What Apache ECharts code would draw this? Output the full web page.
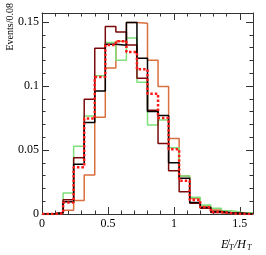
<!DOCTYPE html>
<html><head><meta charset="utf-8">
<script src="https://cdn.jsdelivr.net/npm/echarts@6/dist/echarts.min.js"></script>
<style>html,body{margin:0;padding:0;background:#fff}#c{width:266px;height:255px}</style>
</head><body><div id="c"></div>
<script>
// Bin lower edges (bin width 0.08)
var binLow = [0,0.08,0.16,0.24,0.32,0.40,0.48,0.56,0.64,0.72,0.80,0.88,0.96,1.04,1.12,1.20,1.28,1.36,1.44,1.52];
var binWidth = 0.08;
var blackVals  = [0,0.001,0.0096,0.0388,0.0714,0.096,0.1325,0.1318,0.1495,0.1216,0.080,0.077,0.040,0.028,0.009,0.005,0.002,0.001,0.0005,0];
var maroonVals = [0,0.001,0.0112,0.044,0.0896,0.1294,0.1464,0.1422,0.132,0.106,0.081,0.055,0.0337,0.0174,0.0083,0.0044,0.0012,0.0008,0.0005,0];
var orangeVals = [0,0.0005,0.003,0.0105,0.0305,0.0755,0.114,0.135,0.1495,0.149,0.120,0.0995,0.059,0.0297,0.0122,0.0062,0.0031,0.001,0.0005,0];
var greenVals  = [0,0.0012,0.0165,0.053,0.0766,0.108,0.134,0.120,0.1375,0.103,0.0695,0.0734,0.0518,0.0297,0.013,0.007,0.0044,0.0026,0.0012,0.001];
var redVals    = [0,0.0005,0.0089,0.0365,0.0745,0.107,0.132,0.135,0.1266,0.113,0.094,0.075,0.0505,0.026,0.011,0.0052,0.0015,0.0005,0,0];
var xTickLabels = ['0','0.5','1','1.5'];
var yTickLabels = ['0','0.05','0.1','0.15'];

function stepData(vals){
  var d = [];
  for (var i=0;i<binLow.length;i++) d.push([binLow[i], vals[i]]);
  d.push([+(binLow[binLow.length-1]+binWidth).toFixed(2), vals[vals.length-1]]);
  return d;
}
function fmt(list){
  return function(v){
    for (var i=0;i<list.length;i++) if (Math.abs(parseFloat(list[i])-v)<1e-6) return list[i];
    return '';
  };
}
var font = 'Liberation Serif';
var XMAX = 1.6, YMAX = 0.157;
function xa(pos, interval, len, labels, line){
  return {type:'value', min:0, max:XMAX, interval:interval, position:pos, gridIndex:0,
    axisLine:{show:line, onZero:false, lineStyle:{color:'#333', width:1}},
    axisTick:{show:true, inside:true, length:len, lineStyle:{color:'#333', width:1}},
    axisLabel:{show:labels, formatter:fmt(xTickLabels), fontFamily:font, fontSize:12, color:'#000', margin:4},
    splitLine:{show:false}};
}
function ya(pos, interval, len, labels, line){
  return {type:'value', min:0, max:YMAX, interval:interval, position:pos, gridIndex:0,
    axisLine:{show:line, onZero:false, lineStyle:{color:'#333', width:1}},
    axisTick:{show:true, inside:true, length:len, lineStyle:{color:'#333', width:1}},
    axisLabel:{show:labels, formatter:fmt(yTickLabels), fontFamily:font, fontSize:12, color:'#000', margin:3},
    splitLine:{show:false}};
}
function ser(name, vals, color, width, type, z){
  return {name:name, type:'line', step:'end', xAxisIndex:0, yAxisIndex:0, data:stepData(vals),
    symbol:'none', z:z, lineStyle:{color:color, width:width, type:type}, silent:true};
}
var chart = echarts.init(document.getElementById('c'), null, {renderer:'canvas'});
chart.setOption({
  animation:false,
  backgroundColor:'#fff',
  grid:{left:42, right:13, top:13, bottom:41},
  xAxis:[xa('bottom',0.5,7,true,true), xa('bottom',0.1,3.5,false,false), xa('top',0.5,7,false,true), xa('top',0.1,3.5,false,false)],
  yAxis:[ya('left',0.05,7,true,true), ya('left',0.01,3.5,false,false), ya('right',0.05,7,false,true), ya('right',0.01,3.5,false,false)],
  series:[
    ser('orange', orangeVals, '#d9703f', 1.5, 'solid', 2),
    ser('green', greenVals, '#7ee07a', 1.5, 'solid', 3),
    ser('maroon', maroonVals, '#7a0a0a', 1.5, 'solid', 4),
    ser('black', blackVals, '#000000', 1.5, 'solid', 5),
    ser('red', redVals, '#ff1a1a', 2.5, [2.5,2], 6)
  ],
  graphic:[
    {type:'text', x:10, y:3, rotation:Math.PI/2, style:{text:'Events/0.08', font:'10px "Liberation Serif"', fill:'#000', align:'right', verticalAlign:'middle'}},
    {type:'text', x:221, y:245, style:{text:'E\u0338', font:'italic 12px "Liberation Serif"', fill:'#000', align:'left', verticalAlign:'middle'}},
    {type:'text', x:229, y:248, style:{text:'T', font:'italic 8px "Liberation Serif"', fill:'#000', align:'left', verticalAlign:'middle'}},
    {type:'text', x:234, y:245, style:{text:'/H', font:'italic 12px "Liberation Serif"', fill:'#000', align:'left', verticalAlign:'middle'}},
    {type:'text', x:247, y:248, style:{text:'T', font:'italic 8px "Liberation Serif"', fill:'#000', align:'left', verticalAlign:'middle'}}
  ]
});
</script></body></html>
